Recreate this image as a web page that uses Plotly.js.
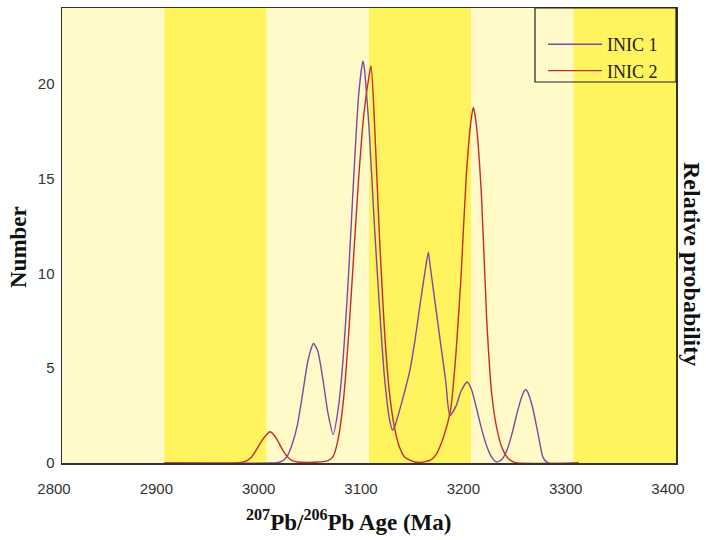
<!DOCTYPE html>
<html>
<head>
<meta charset="utf-8">
<script src="https://cdn.plot.ly/plotly-3.0.1.min.js"></script>
<style>html,body{margin:0;padding:0;background:#fff;}#chart{width:706px;height:540px;}</style>
</head>
<body>
<div id="chart"></div>
<script>
// Tick values
const xTicks = [2800, 2900, 3000, 3100, 3200, 3300, 3400];
const yTicks = [0, 5, 10, 15, 20];

// Background band edges (Ma)
const bandEdges = [2800, 2900, 3000, 3100, 3200, 3300, 3400];

// Series: INIC 1 (purple)
const inic1Age = [2900, 3005, 3010, 3015, 3020, 3025, 3030, 3035, 3040, 3045, 3046, 3050, 3055, 3060, 3065,
  3070, 3075, 3080, 3085, 3090, 3094, 3095, 3100, 3105, 3110, 3115, 3120, 3123, 3125,
  3130, 3135, 3140, 3145, 3150, 3155, 3158, 3160, 3165, 3170, 3175, 3179, 3185, 3190, 3196,
  3200, 3205, 3210, 3215, 3220, 3225, 3230, 3235, 3240, 3245, 3250, 3253, 3255, 3260, 3265, 3270, 3275, 3305];
const inic1Val = [0, 0, 0.02, 0.1, 0.35, 1.0, 2.0, 3.6, 5.3, 6.25, 6.3, 5.9, 4.4, 2.6, 1.5,
  2.9, 5.7, 9.9, 15.0, 19.5, 21.2, 21.0, 17.7, 12.8, 8.4, 4.6, 2.3, 1.74, 1.9,
  2.8, 3.8, 4.9, 6.5, 8.4, 10.2, 11.1, 10.3, 8.3, 6.3, 4.3, 2.5, 3.0, 3.8, 4.27,
  3.9, 2.9, 1.8, 0.9, 0.3, 0.05, 0.2, 0.7, 1.6, 2.7, 3.6, 3.88, 3.75, 2.9, 1.6, 0.3, 0, 0];

// Series: INIC 2 (red)
const inic2Age = [2900, 2970, 2975, 2980, 2985, 2990, 2995, 3000, 3003, 3005, 3010, 3015, 3020, 3025, 3030,
  3040, 3050, 3055, 3060, 3065, 3070, 3075, 3080, 3085, 3090, 3095, 3100, 3102, 3105,
  3110, 3115, 3120, 3125, 3130, 3135, 3140, 3145, 3150, 3160, 3165, 3170, 3175, 3180,
  3185, 3190, 3195, 3200, 3202, 3205, 3210, 3215, 3220, 3225, 3230, 3235, 3240, 3245, 3305];
const inic2Val = [0, 0, 0.03, 0.1, 0.3, 0.7, 1.15, 1.5, 1.65, 1.6, 1.25, 0.75, 0.35, 0.12, 0.05,
  0.03, 0.05, 0.07, 0.12, 0.35, 1.3, 3.3, 6.7, 10.9, 15.1, 18.4, 20.4, 20.95, 18.4,
  12.2, 7.1, 3.7, 1.85, 0.8, 0.3, 0.15, 0.05, 0.03, 0.15, 0.4, 0.95, 1.75, 2.9,
  5.8, 9.9, 15.1, 18.2, 18.75, 17.8, 14.0, 7.6, 3.6, 1.8, 0.8, 0.3, 0.08, 0, 0];

const seriesNames = ['INIC 1', 'INIC 2'];
const seriesColors = ['#8048a0', '#c92c1e'];

const lightBand = '#fffac8';
const yellowBand = '#fff35e';

const shapes = [];
for (let i = 0; i < bandEdges.length - 1; i++) {
  shapes.push({
    type: 'rect', xref: 'x', yref: 'paper', layer: 'below',
    x0: bandEdges[i], x1: bandEdges[i + 1], y0: 0, y1: 1,
    fillcolor: i % 2 === 0 ? lightBand : yellowBand, line: {width: 0}
  });
}
// legend frame
shapes.push({
  type: 'rect', xref: 'paper', yref: 'paper', layer: 'above',
  x0: (535 - 62) / 614, x1: 1, y0: (463 - 82) / 455, y1: 1,
  line: {color: '#222', width: 1.2}, fillcolor: 'rgba(0,0,0,0)'
});

const traces = [
  {x: inic1Age, y: inic1Val, name: seriesNames[0], type: 'scatter', mode: 'lines',
   line: {color: seriesColors[0], width: 1.4, shape: 'spline', smoothing: 0.6}},
  {x: inic2Age, y: inic2Val, name: seriesNames[1], type: 'scatter', mode: 'lines',
   line: {color: seriesColors[1], width: 1.4, shape: 'spline', smoothing: 0.6}}
];

const tickFont = {family: 'Liberation Sans, Arial, sans-serif', size: 15, color: '#333'};
const titleFont = {family: 'Liberation Serif, Times New Roman, serif', size: 23, color: '#111'};

const layout = {
  width: 706, height: 540,
  margin: {l: 62, r: 30, t: 8, b: 77, pad: 0},
  paper_bgcolor: '#ffffff',
  plot_bgcolor: lightBand,
  showlegend: true,
  legend: {
    x: (543 - 62) / 614, xanchor: 'left',
    y: (463 - 26) / 455, yanchor: 'top',
    bgcolor: 'rgba(0,0,0,0)', borderwidth: 0,
    font: {family: 'Liberation Serif, Times New Roman, serif', size: 18, color: '#222'},
    itemwidth: 54, tracegroupgap: 0
  },
  xaxis: {
    range: [2800, 3400], tickvals: xTicks, ticktext: xTicks.map(String),
    ticks: '', showgrid: false, zeroline: false,
    showline: true, mirror: true, linecolor: '#333', linewidth: 1.5,
    tickfont: tickFont, ticklabelshift: -8, ticklabelstandoff: 11, fixedrange: true
  },
  yaxis: {
    range: [0, 24], tickvals: yTicks, ticktext: yTicks.map(String),
    ticks: '', showgrid: false, zeroline: false,
    showline: true, mirror: true, linecolor: '#333', linewidth: 1.5,
    tickfont: tickFont, ticklabelstandoff: 3, fixedrange: true
  },
  shapes: shapes,
  annotations: [
    {text: '<b>Number</b>', xref: 'paper', yref: 'paper', x: (18 - 62) / 614, y: (463 - 247) / 455,
     xanchor: 'center', yanchor: 'middle', textangle: -90, showarrow: false, font: titleFont},
    {text: '<b><sup>207</sup>Pb/<sup>206</sup>Pb Age (Ma)</b>', xref: 'paper', yref: 'paper',
     x: (348 - 62) / 614, y: (463 - 520) / 455, xanchor: 'center', yanchor: 'middle',
     showarrow: false, font: titleFont},
    {text: '<b>Relative probability</b>', xref: 'paper', yref: 'paper', x: (692 - 62) / 614, y: (463 - 264) / 455,
     xanchor: 'center', yanchor: 'middle', textangle: 90, showarrow: false,
     font: {family: 'Liberation Serif, Times New Roman, serif', size: 24, color: '#111'}}
  ]
};

Plotly.newPlot('chart', traces, layout, {displayModeBar: false, staticPlot: true});
</script>
</body>
</html>
